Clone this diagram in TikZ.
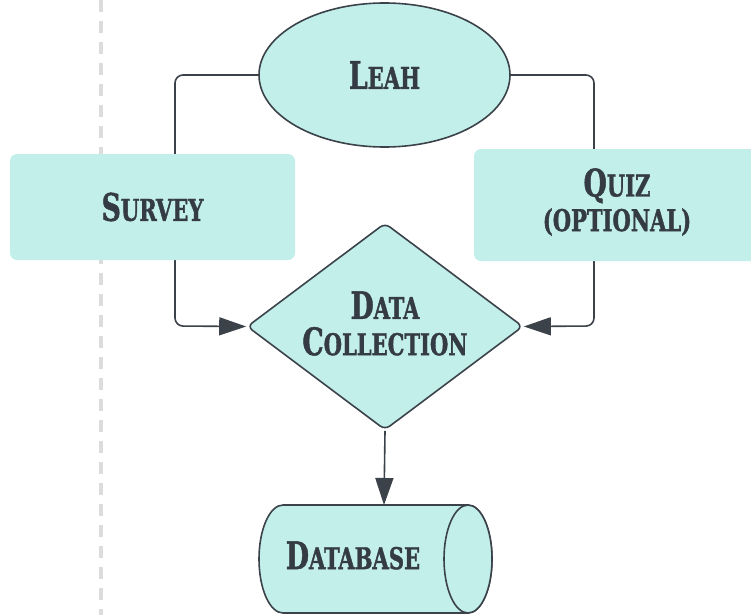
\documentclass[tikz,border=0pt]{standalone}
\usepackage{fontspec}
\usetikzlibrary{shapes.geometric,arrows.meta}
\newfontfamily\lblfont[FakeStretch=0.78,FakeBold=1.2]{DejaVu Serif Condensed Bold}
\definecolor{tealfill}{HTML}{C2EFEA}
\definecolor{strokec}{HTML}{3B424A}
\definecolor{textc}{HTML}{343B44}
\definecolor{dashc}{HTML}{DCDCDC}
\newcommand{\bigC}[1]{{\fontsize{38}{40}\selectfont #1}}
\newcommand{\smC}[1]{{\fontsize{30}{32}\selectfont #1}}
\tikzset{
  lbl/.style={font=\lblfont, text=textc, align=center, inner sep=0pt},
  shapefill/.style={fill=tealfill, draw=strokec, line width=1.6pt},
  boxfill/.style={fill=tealfill, rounded corners=7pt, inner sep=0pt},
  conn/.style={draw=strokec, line width=1.6pt, rounded corners=8pt},
  tip/.style={-{Triangle[length=27pt,width=18pt]}}
}
\begin{document}
\begin{tikzpicture}[x=1pt,y=1pt]
\useasboundingbox (0,0) rectangle (751,-615);
% dashed separator
\coordinate (dtop) at (101,0);
\coordinate (dbot) at (101,-615);
\draw[dashc, line width=3.5pt, dash pattern=on 12pt off 9pt] (dtop) -- (dbot);
% shapes
\node[ellipse, shapefill, minimum width=251pt, minimum height=144pt, lbl] (leah) at (384.5,-75) {\bigC{L}\smC{EAH}};
\node[diamond, shapefill, rounded corners=6pt, minimum width=276pt, minimum height=207pt, inner sep=0pt] (dc) at (385,-326.5) {};
% connectors (behind boxes)
\coordinate (lc) at (175,-326);
\coordinate (rc) at (594,-326);
\draw[conn, tip] (leah.west) -| (lc) -- (dc.west);
\draw[conn, tip] (leah.east) -| (rc) -- (dc.east);
% boxes
\node[boxfill, minimum width=285pt, minimum height=106pt, lbl] (survey) at (152.5,-207) {\bigC{S}\smC{URVEY}};
\node[boxfill, minimum width=300pt, minimum height=112pt] (quiz) at (624,-205) {};
\node[lbl] (quiztxt) at (617,-202) {\bigC{Q}\smC{UIZ}\\[4pt]\smC{(OPTIONAL)}};
% diamond text
\node[lbl] (dctxt) at (385,-323.5) {\bigC{D}\smC{ATA}\\[7pt]\bigC{C}\smC{OLLECTION}};
% database cylinder
\coordinate (dbtop) at (384,-505);
\draw[shapefill] (283,-505) -- (468,-505) arc[start angle=90,end angle=-90,x radius=24,y radius=54] -- (283,-613) arc[start angle=270,end angle=90,x radius=24,y radius=54] -- cycle;
\draw[shapefill] (468,-559) ellipse[x radius=24, y radius=54];
\node[lbl] (db) at (353,-555.5) {\bigC{D}\smC{ATABASE}};
\draw[draw=strokec, line width=1.6pt, tip] (dc.south) -- (dbtop);
\end{tikzpicture}
\end{document}
